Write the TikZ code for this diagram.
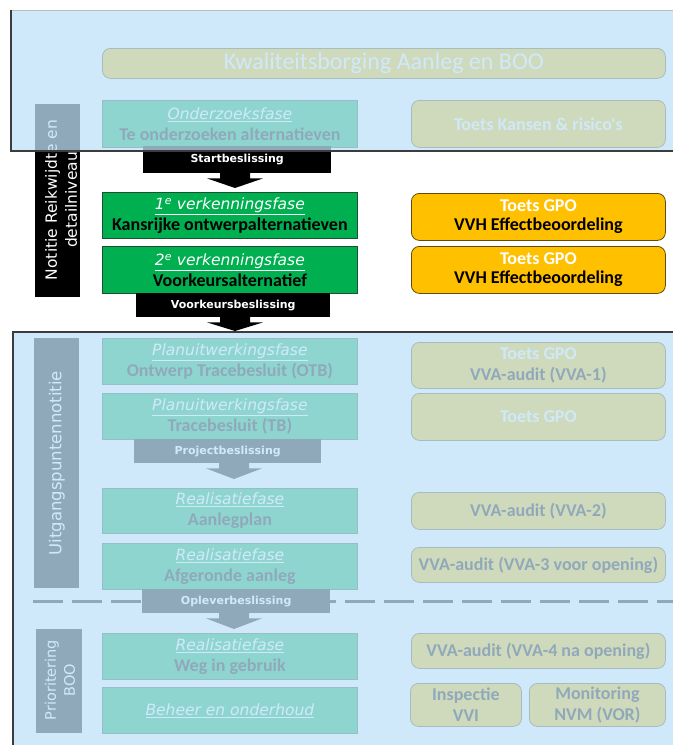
\documentclass[tikz,border=0pt]{standalone}
\usepackage{fontspec}
\newfontfamily\boxfont{Carlito}
\newfontfamily\labfont{DejaVu Sans}
\usetikzlibrary{calc}

\definecolor{phasegreen}{RGB}{0,176,80}
\definecolor{phaseedge}{RGB}{30,80,50}
\definecolor{toetsorange}{RGB}{255,192,0}
\definecolor{toetsedge}{RGB}{95,75,10}
\definecolor{panelblue}{RGB}{192,226,250}
\definecolor{panelline}{RGB}{60,60,60}

% phase title: white, oblique, underlined
\newcommand\ptitle[1]{{\labfont\itshape\mdseries\fontsize{15.5}{21}\selectfont\color{white}\underline{#1}}}
% white first line of a toets box
\newcommand\wline[1]{{\color{white}#1}}

% block arrow below a decision bar: #1 bar node, #2 tip coordinate
\newcommand\decisionarrow[2]{%
  \fill[black] ($(#1.south -| #2)+(-15,-1)$) -- ($(#1.south -| #2)+(15,-1)$)
    -- ($(#1.south -| #2)+(15,5)$) -- ($(#1.south -| #2)+(28,5)$) -- (#2)
    -- ($(#1.south -| #2)+(-28,5)$) -- ($(#1.south -| #2)+(-15,5)$) -- cycle;}

\tikzset{
  phase/.style={draw=phaseedge, fill=phasegreen, line width=0.8pt, anchor=north west,
    minimum width=255pt, minimum height=46pt, inner sep=0pt, align=center,
    font=\boxfont\bfseries\fontsize{18}{21}\selectfont},
  toets/.style={draw=toetsedge, fill=toetsorange, rounded corners=8pt, line width=0.8pt,
    anchor=north west, minimum width=254pt, minimum height=46pt, inner sep=0pt,
    align=center, font=\boxfont\bfseries\fontsize{18}{21}\selectfont},
  beslis/.style={fill=black, text=white, inner sep=0pt, anchor=north west,
    font=\labfont\bfseries\fontsize{11}{13}\selectfont},
  sidebar/.style={fill=black, anchor=north west, inner sep=0pt, minimum width=45pt},
  sidelabel/.style={text=white, rotate=90, align=center, inner sep=0pt,
    font=\labfont\fontsize{15.5}{20}\selectfont},
  veil/.style={fill=panelblue, fill opacity=0.75},
  veiledge/.style={draw=panelline, line width=1.2pt},
}

\begin{document}
\begin{tikzpicture}[x=1pt,y=-1pt]
\useasboundingbox (0,0) rectangle (673,745);
\fill[white] (0,0) rectangle (673,745);

% side bars
\node[sidebar, minimum height=193pt] (nb) at (35,104) {};
\node[sidelabel] (nbl) at (61,200) {Notitie Reikwijdte en\\detailniveau};
\node[sidebar, minimum height=250pt] (ub) at (34,338) {};
\node[sidelabel, font=\labfont\fontsize{16.5}{20}\selectfont] (ubl) at (ub.center) {Uitgangspuntennotitie};
\node[sidebar, minimum height=104pt, minimum width=46pt] (pb) at (36,629) {};
\node[sidelabel, font=\labfont\fontsize{14.5}{19}\selectfont] (pbl) at (60,680) {Prioritering\\BOO};

% quality assurance banner
\node[toets, minimum width=563pt, minimum height=30pt, font=\boxfont\fontsize{24}{26}\selectfont,
  text=white] (kb) at (102,48) {Kwaliteitsborging Aanleg en BOO};

% phases
\node[phase, minimum height=47pt] (p0) at (102,100) {\ptitle{Onderzoeksfase}\\Te onderzoeken alternatieven};
\node[phase] (p1) at (102,192) {\ptitle{1\textsuperscript{e} verkenningsfase}\\Kansrijke ontwerpalternatieven};
\node[phase, minimum height=47pt] (p2) at (102,246) {\ptitle{2\textsuperscript{e} verkenningsfase}\\Voorkeursalternatief};
\node[phase] (p3) at (102,338) {\ptitle{Planuitwerkingsfase}\\Ontwerp Tracebesluit (OTB)};
\node[phase] (p4) at (102,393) {\ptitle{Planuitwerkingsfase}\\Tracebesluit (TB)};
\node[phase, minimum height=45pt] (p5) at (102,488) {\ptitle{Realisatiefase}\\Aanlegplan};
\node[phase] (p6) at (102,543) {\ptitle{Realisatiefase}\\Afgeronde aanleg};
\node[phase] (p7) at (102,633) {\ptitle{Realisatiefase}\\Weg in gebruik};
\node[phase] (p8) at (102,687) {\ptitle{Beheer en onderhoud}};

% tests and audits
\node[toets, minimum height=47pt] (t0) at (411,100) {\wline{Toets Kansen \& risico's}};
\node[toets, minimum height=47pt] (t1) at (411,193) {\raisebox{-2pt}{\wline{Toets GPO}}\\VVH Effectbeoordeling};
\node[toets, minimum height=47pt] (t2) at (411,246) {\raisebox{-2pt}{\wline{Toets GPO}}\\VVH Effectbeoordeling};
\node[toets] (t3) at (411,342) {\wline{Toets GPO}\\VVA-audit (VVA-1)};
\node[toets, minimum height=47pt] (t4) at (411,393) {\wline{Toets GPO}};
\node[toets, minimum height=37pt] (t5) at (411,492) {VVA-audit (VVA-2)};
\node[toets, minimum height=35pt] (t6) at (411,547) {VVA-audit (VVA-3 voor opening)};
\node[toets, minimum height=35pt] (t7) at (411,633) {VVA-audit (VVA-4 na opening)};
\node[toets, minimum width=111pt, minimum height=43pt] (t8) at (410,683) {Inspectie\\VVI};
\node[toets, minimum width=136pt, minimum height=43pt] (t9) at (529,683) {Monitoring\\NVM (VOR)};

% boundary between realisation and use
\draw[black, line width=3pt, dash pattern=on 30pt off 9pt] (33,601) -- (673,601);

% decisions
\node[beslis, minimum width=188pt, minimum height=27pt] (sb) at (143,146) {\raisebox{2pt}{Startbeslissing}};
\coordinate (sbt) at (235,188);
\decisionarrow{sb}{sbt}
\node[beslis, minimum width=194pt, minimum height=24pt] (vb) at (136,293) {Voorkeursbeslissing};
\coordinate (vbt) at (235,331);
\decisionarrow{vb}{vbt}
\node[beslis, minimum width=187pt, minimum height=24pt] (jb) at (134,439) {Projectbeslissing};
\coordinate (jbt) at (234,479);
\decisionarrow{jb}{jbt}
\node[beslis, minimum width=188pt, minimum height=24pt] (ob) at (142,589) {Opleverbeslissing};
\coordinate (obt) at (234,629);
\decisionarrow{ob}{obt}

% veils over the stages outside the highlighted band
\fill[veil] (11,10) rectangle (673,151);
\fill[veil] (13,332) rectangle (673,745);
\draw[draw=panelline!35, line width=0.8pt] (11,10) -- (673,10);
\draw[veiledge] (11,10) -- (11,151) -- (673,151);
\draw[veiledge] (13,745) -- (13,332) -- (673,332);
\end{tikzpicture}
\end{document}
